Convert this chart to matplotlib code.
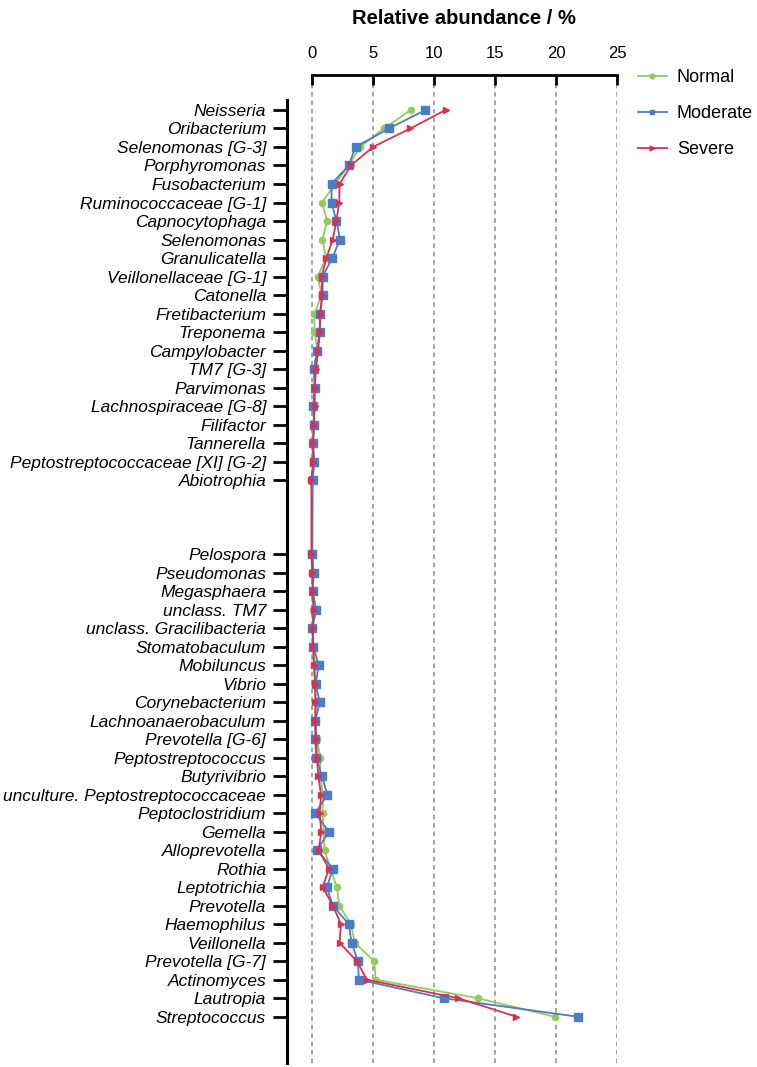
import matplotlib
matplotlib.use("Agg")
import matplotlib.pyplot as plt
from matplotlib.lines import Line2D

plt.rcParams['font.family'] = ['Liberation Sans', 'DejaVu Sans']

top_genera = ["Neisseria", "Oribacterium", "Selenomonas [G-3]", "Porphyromonas",
              "Fusobacterium", "Ruminococcaceae [G-1]", "Capnocytophaga", "Selenomonas",
              "Granulicatella", "Veillonellaceae [G-1]", "Catonella", "Fretibacterium",
              "Treponema", "Campylobacter", "TM7 [G-3]", "Parvimonas",
              "Lachnospiraceae [G-8]", "Filifactor", "Tannerella",
              "Peptostreptococcaceae [XI] [G-2]", "Abiotrophia"]
bottom_genera = ["Pelospora", "Pseudomonas", "Megasphaera", "unclass. TM7",
                 "unclass. Gracilibacteria", "Stomatobaculum", "Mobiluncus", "Vibrio",
                 "Corynebacterium", "Lachnoanaerobaculum", "Prevotella [G-6]",
                 "Peptostreptococcus", "Butyrivibrio", "unculture. Peptostreptococcaceae",
                 "Peptoclostridium", "Gemella", "Alloprevotella", "Rothia", "Leptotrichia",
                 "Prevotella", "Haemophilus", "Veillonella", "Prevotella [G-7]",
                 "Actinomyces", "Lautropia", "Streptococcus"]

normal = [8.1, 5.9, 3.95, 3.0, 1.9, 0.82, 1.23, 0.85, 1.15, 0.46, 0.8, 0.2, 0.2, 0.45,
          0.15, 0.22, 0.15, 0.16, 0.08, 0.15, 0.03,
          0.02, 0.05, 0.05, 0.1, 0.05, 0.1, 0.27, 0.25, 0.35, 0.27, 0.4, 0.68, 0.68, 0.9,
          0.87, 0.95, 1.04, 1.5, 2.04, 2.23, 3.19, 3.5, 5.1, 5.23, 13.6, 19.9]
moderate = [9.3, 6.3, 3.57, 3.0, 1.6, 1.6, 2.0, 2.3, 1.66, 0.87, 0.87, 0.63, 0.63, 0.4,
            0.16, 0.22, 0.1, 0.16, 0.08, 0.2, 0.05,
            0.02, 0.14, 0.05, 0.35, 0.03, 0.1, 0.55, 0.3, 0.63, 0.27, 0.25, 0.35, 0.82, 1.25,
            0.27, 1.39, 0.41, 1.74, 1.2, 1.72, 3.02, 3.24, 3.76, 3.84, 10.8, 21.8]
severe = [10.95, 8.07, 5.0, 3.19, 2.26, 2.23, 2.0, 1.7, 1.17, 0.8, 0.82, 0.7, 0.65, 0.5,
          0.33, 0.22, 0.22, 0.16, 0.08, 0.1, -0.05,
          -0.05, 0.03, 0.05, 0.14, 0.05, 0.1, 0.14, 0.25, 0.27, 0.27, 0.35, 0.4, 0.52, 0.74,
          0.63, 0.76, 0.55, 1.39, 0.87, 1.72, 2.37, 2.26, 3.68, 4.5, 12.0, 16.76]

x_ticks = [0, 5, 10, 15, 20, 25]

genera = top_genera + bottom_genera
positions = list(range(len(top_genera))) + [len(top_genera) + 3 + i for i in range(len(bottom_genera))]

fig = plt.figure(figsize=(7.57, 10.67), dpi=100)
ax = fig.add_axes([287/757, 1 - 1063/1067, (617 - 287)/757, (1063 - 75)/1067])

for x in x_ticks:
    ax.axvline(x, color='#8a8a8a', linestyle=(0, (3, 2.5)), linewidth=1.1, zorder=1)

colors = {'Normal': '#97c95c', 'Moderate': '#4a7cc7', 'Severe': '#d9304f'}
markers = {'Normal': 'o', 'Moderate': 's', 'Severe': '>'}
msizes = {'Normal': 4.5, 'Moderate': 5.5, 'Severe': 5}
series = {'Normal': normal, 'Moderate': moderate, 'Severe': severe}
handles = []
for name in ['Normal', 'Moderate', 'Severe']:
    ax.plot(series[name], positions, color=colors[name], marker=markers[name],
            markersize=msizes[name], linewidth=1.3, zorder=3, label=name)
    handles.append(Line2D([0], [0], color=colors[name], marker=markers[name],
                          markersize=3.5, linewidth=1.3))

ax.set_xlim(-2.05, 25)
ax.set_ylim(51.5, -1.89)

ax.xaxis.set_ticks_position('top')
ax.xaxis.set_label_position('top')
ax.set_xticks(x_ticks)
ax.set_xticklabels([str(v) for v in x_ticks], fontsize=12)
ax.tick_params(axis='x', direction='in', length=7, width=2, pad=10)

ax.set_yticks(positions)
ax.set_yticklabels(genera, fontsize=12.5, style='italic')
ax.tick_params(axis='y', direction='out', length=10, width=2, pad=5)

ax.spines['right'].set_visible(False)
ax.spines['bottom'].set_visible(False)
ax.spines['top'].set_linewidth(2)
ax.spines['left'].set_linewidth(2.2)
ax.spines['top'].set_bounds(0, 25)
ax.spines['left'].set_bounds(-0.55, 51.5)

ax.set_title("Relative abundance / %", fontsize=14.5, fontweight='bold', pad=37,
             x=(312 + 152 - 287) / 330)

fig.legend(handles, ['Normal', 'Moderate', 'Severe'], loc='upper left',
           bbox_to_anchor=(638/757, 1 - 69/1067), frameon=False, fontsize=13,
           handlelength=1.6, labelspacing=1.05, handletextpad=0.55,
           borderpad=0, borderaxespad=0)

fig.savefig("out.png", dpi=100)
